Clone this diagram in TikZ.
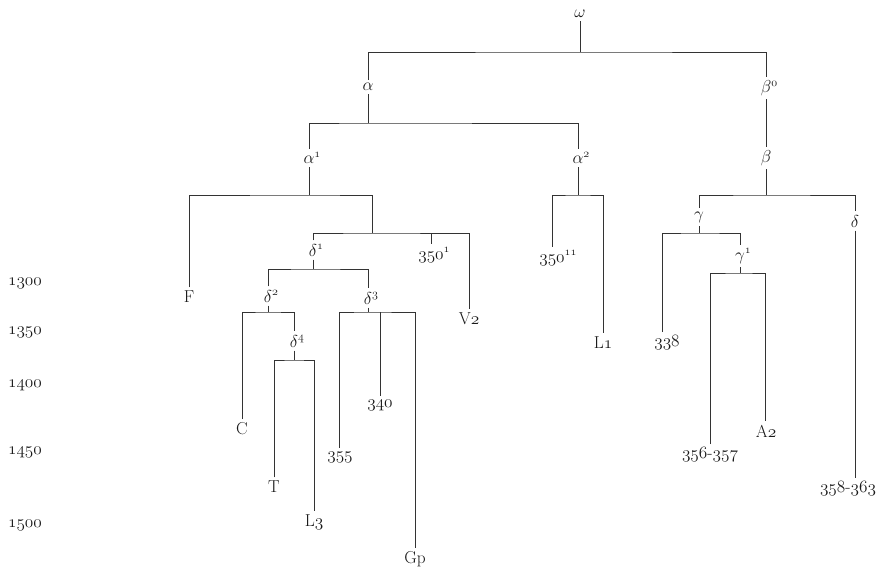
\documentclass[tikz,border=0pt]{standalone}
\newcommand\osn[1]{\ensuremath{\mathnormal{#1}}}
\newcommand\supr[2]{\ensuremath{#1\rlap{$^{\mathnormal{#2}}$}}}
\begin{document}
\begin{tikzpicture}[x=1pt,y=-1pt,
  lbl/.style={inner xsep=1pt,inner ysep=3.5pt,font=\LARGE,text=black!90},
  ln/.style={line width=1pt,draw=black!80}]
\useasboundingbox[fill=white] (0,0) rectangle (891,574);

% ---------- year scale ----------
\node[lbl] (y1300) at (25,283) {\osn{1300}};
\node[lbl] (y1350) at (25,332) {\osn{1350}};
\node[lbl] (y1400) at (25,385) {\osn{1400}};
\node[lbl] (y1450) at (25,452) {\osn{1450}};
\node[lbl] (y1500) at (25,525) {\osn{1500}};

% ---------- inner nodes ----------
\node[lbl] (w)   at (580,14)  {$\omega$};
\node[lbl] (a)   at (368,87)  {$\alpha$};
\node[lbl] (b0)  at (766,88)  {\supr{\beta}{0}};
\node[lbl] (a1)  at (309,158) {\supr{\alpha}{1}};
\node[lbl] (a2)  at (578,158) {\supr{\alpha}{2}};
\node[lbl] (b)   at (766,158) {$\beta$};
\node[lbl] (d1)  at (313,250) {\supr{\delta}{1}};
\node[lbl] (d2)  at (268,296) {\supr{\delta}{2}};
\node[lbl] (d3)  at (368,298) {\supr{\delta}{3}};
\node[lbl] (d4)  at (294,341) {\supr{\delta}{4}};
\node[lbl] (g)   at (699,217) {$\gamma$};
\node[lbl] (g1)  at (740,256) {\supr{\gamma}{1}};
\node[lbl] (d)   at (855,221) {$\delta$};

% ---------- leaves ----------
\node[lbl] (F)    at (189,297) {F};
\node[lbl] (s350a) at (431,255) {\supr{\osn{350}}{1}};
\node[lbl] (V2)   at (469,319) {V\osn{2}};
\node[lbl] (C)    at (242,429) {C};
\node[lbl] (T)    at (274,487) {T};
\node[lbl] (L3)   at (314,522) {L\osn{3}};
\node[lbl] (n355) at (340,457) {\osn{355}};
\node[lbl] (n340) at (380,405) {\osn{340}};
\node[lbl] (Gp)   at (415,559) {Gp};
\node[lbl] (s350b) at (552,258) {\supr{\osn{350}}{11}};
\node[lbl] (L1)   at (603,343) {L\osn{1}};
\node[lbl] (n338) at (667,343) {\osn{338}};
\node[lbl] (n356) at (710,455) {\osn{356}-\osn{357}};
\node[lbl] (A2)   at (766,431) {A\osn{2}};
\node[lbl] (n358) at (848,489) {\osn{358}-\osn{363}};

% ---------- bar coordinates ----------
\coordinate (barW)  at (580,52);
\coordinate (barA)  at (368,123);
\coordinate (barA1) at (309,195);
\coordinate (k1)    at (372,195);
\coordinate (barK)  at (372,233);
\coordinate (barD1) at (313,269);
\coordinate (barD2) at (268,312);
\coordinate (barD3) at (368,312);
\coordinate (barD4) at (294,360);
\coordinate (barA2) at (578,195);
\coordinate (barB)  at (766,195);
\coordinate (barG)  at (699,233);
\coordinate (barG1) at (740,273);

% ---------- connectors ----------
% omega
\draw[ln] (w.south) -- (barW);
\draw[ln] (a.north) |- (barW) -| (b0.north);
\draw[ln] (b0.south) -- (b.north);
% alpha
\draw[ln] (a.south) -- (barA);
\draw[ln] (a1.north) |- (barA) -| (a2.north);
% alpha1
\draw[ln] (a1.south) -- (barA1);
\draw[ln] (F.north) |- (barA1) -| (k1);
\draw[ln] (k1) -- (barK);
\draw[ln] (d1.north) |- (barK) -| (V2.north);
\draw[ln] (s350a.north) -- (s350a.north |- barK);
% delta1
\draw[ln] (d1.south) -- (barD1);
\draw[ln] (d2.north) |- (barD1) -| (d3.north);
% delta2
\draw[ln] (d2.south) -- (barD2);
\draw[ln] (C.north) |- (barD2) -| (d4.north);
% delta4
\draw[ln] (d4.south) -- (barD4);
\draw[ln] (T.north) |- (barD4) -| (L3.north);
% delta3
\draw[ln] (d3.south) -- (barD3);
\draw[ln] ([xshift=-1pt]n355.north) |- (barD3) -| (Gp.north);
\draw[ln] (n340.north) -- (n340.north |- barD3);
% alpha2
\draw[ln] (a2.south) -- (barA2);
\draw[ln] (s350b.north) |- (barA2) -| (L1.north);
% beta
\draw[ln] (b.south) -- (barB);
\draw[ln] (g.north) |- (barB) -| (d.north);
% gamma
\draw[ln] (g.south) -- (barG);
\draw[ln] ([xshift=-5pt]n338.north) |- (barG) -| (g1.north);
% gamma1
\draw[ln] (g1.south) -- (barG1);
\draw[ln] (n356.north) |- (barG1) -| ([xshift=-1pt]A2.north);
% delta
\draw[ln] (d.south) -- ([xshift=7pt]n358.north);
\end{tikzpicture}
\end{document}
